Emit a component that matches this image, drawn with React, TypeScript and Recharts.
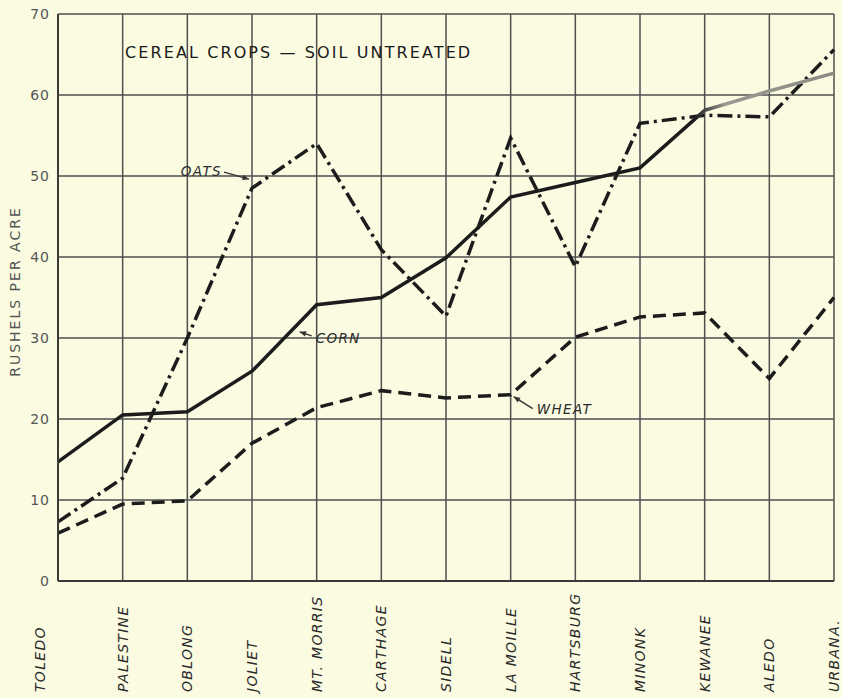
import React from "react";
import {
  LineChart,
  Line,
  XAxis,
  YAxis,
  CartesianGrid,
  ReferenceDot,
} from "recharts";

const towns = [
  "TOLEDO",
  "PALESTINE",
  "OBLONG",
  "JOLIET",
  "MT. MORRIS",
  "CARTHAGE",
  "SIDELL",
  "LA MOILLE",
  "HARTSBURG",
  "MINONK",
  "KEWANEE",
  "ALEDO",
  "URBANA.",
];
const corn = [14.7, 20.5, 20.9, 25.9, 34.1, 35.0, 39.9, 47.4, 49.2, 51.0, 58.1, 60.5, 62.7];
const oats = [7.3, 12.7, 30.0, 48.5, 54.0, 40.9, 32.7, 54.7, 38.8, 56.5, 57.5, 57.3, 65.6];
const wheat = [5.9, 9.5, 9.9, 17.0, 21.4, 23.5, 22.6, 23.0, 30.1, 32.6, 33.1, 25.0, 35.0];
const yTicks = [0, 10, 20, 30, 40, 50, 60, 70];

const data = towns.map((name, i) => ({
  name,
  corn: corn[i],
  oats: oats[i],
  wheat: wheat[i],
}));

const BG = "#fbfbe2";
const INK = "#1c1c1c";
const GRID = "#4f4f4f";
const FONT = "'DejaVu Sans', Verdana, sans-serif";

// rotated town names under the axis
function TownTick(props: any) {
  const { x, payload, index } = props;
  const tx = x + (index === 0 ? -18 : 0);
  const ty = 692;
  return (
    <text
      x={tx}
      y={ty}
      dy="0.36em"
      transform={`rotate(-90, ${tx}, ${ty})`}
      textAnchor="start"
      fontFamily={FONT}
      fontStyle="italic"
      fontSize={14}
      letterSpacing={1.3}
      fill="#2a2a2a"
    >
      {payload.value}
    </text>
  );
}

function YLabel(props: any) {
  const { viewBox } = props;
  const cx = 15;
  const cy = viewBox.y + viewBox.height / 2 - 6;
  return (
    <text
      x={cx}
      y={cy}
      dy="0.36em"
      transform={`rotate(-90, ${cx}, ${cy})`}
      textAnchor="middle"
      fontFamily={FONT}
      fontSize={14}
      letterSpacing={2}
      fill="#555"
    >
      RUSHELS PER ACRE
    </text>
  );
}

// small arrow + italic label tied to a data point
function pointer(label: string, tail: [number, number], tip: [number, number], text: [number, number], anchor: string) {
  return (props: any) => {
    const { cx, cy } = props;
    if (cx == null || cy == null) return <g />;
    const x1 = cx + tail[0];
    const y1 = cy + tail[1];
    const x2 = cx + tip[0];
    const y2 = cy + tip[1];
    const ang = Math.atan2(y2 - y1, x2 - x1);
    const h = 7;
    const a1 = ang + Math.PI - 0.4;
    const a2 = ang + Math.PI + 0.4;
    return (
      <g>
        <line x1={x1} y1={y1} x2={x2} y2={y2} stroke="#333" strokeWidth={1.4} />
        <path
          d={`M${x2},${y2} L${x2 + h * Math.cos(a1)},${y2 + h * Math.sin(a1)} L${x2 + h * Math.cos(a2)},${y2 + h * Math.sin(a2)} Z`}
          fill="#333"
        />
        <text
          x={cx + text[0]}
          y={cy + text[1]}
          dy="0.35em"
          textAnchor={anchor}
          fontFamily={FONT}
          fontStyle="italic"
          fontSize={13.5}
          letterSpacing={1.4}
          fill="#2a2a2a"
        >
          {label}
        </text>
      </g>
    );
  };
}

export default function App() {
  return (
    <div
      style={{
        position: "absolute",
        left: 0,
        top: 0,
        width: 842,
        height: 698,
        background: BG,
        overflow: "hidden",
      }}
    >
      <LineChart
        width={842}
        height={698}
        data={data}
        margin={{ top: 14, right: 8, bottom: 0, left: 0 }}
      >
        <defs>
          <linearGradient id="cornFade" x1="0" y1="0" x2="1" y2="0">
            <stop offset="0.82" stopColor={INK} />
            <stop offset="0.86" stopColor="#9a9a92" />
            <stop offset="1" stopColor="#8a8a84" />
          </linearGradient>
        </defs>
        <CartesianGrid stroke={GRID} strokeWidth={1.5} />
        <XAxis
          dataKey="name"
          height={117}
          interval={0}
          axisLine={{ stroke: "#3a3a3a", strokeWidth: 2 }}
          tickLine={false}
          tick={<TownTick />}
        />
        <YAxis
          domain={[0, 70]}
          ticks={yTicks}
          width={58}
          tickLine={false}
          tickSize={6}
          axisLine={{ stroke: "#3a3a3a", strokeWidth: 2 }}
          tick={{ fontSize: 14, fill: "#555", fontFamily: FONT, letterSpacing: 1 }}
          label={<YLabel />}
        />
        <Line
          dataKey="wheat"
          stroke={INK}
          strokeWidth={3.5}
          strokeDasharray="13 7"
          dot={false}
          isAnimationActive={false}
        />
        <Line
          dataKey="oats"
          stroke={INK}
          strokeWidth={3.5}
          strokeDasharray="15 5 3 5"
          dot={false}
          isAnimationActive={false}
        />
        <Line
          dataKey="corn"
          stroke="url(#cornFade)"
          strokeWidth={3.5}
          dot={false}
          isAnimationActive={false}
        />
        <ReferenceDot
          x="JOLIET"
          y={oats[3]}
          shape={pointer("OATS", [-28, -16], [-3, -9], [-30, -17], "end")}
        />
        <ReferenceDot
          x="MT. MORRIS"
          y={corn[4]}
          shape={pointer("CORN", [-5, 31], [-17, 27], [-1, 33], "start")}
        />
        <ReferenceDot
          x="LA MOILLE"
          y={wheat[7]}
          shape={pointer("WHEAT", [22, 14], [3, 2], [26, 15], "start")}
        />
      </LineChart>
      <svg
        width={842}
        height={698}
        style={{ position: "absolute", left: 0, top: 0, pointerEvents: "none" }}
      >
        <text
          x={125}
          y={58}
          fontFamily={FONT}
          fontSize={16}
          letterSpacing={2.1}
          fill="#1a1a1a"
        >
          CEREAL CROPS — SOIL UNTREATED
        </text>
      </svg>
    </div>
  );
}
